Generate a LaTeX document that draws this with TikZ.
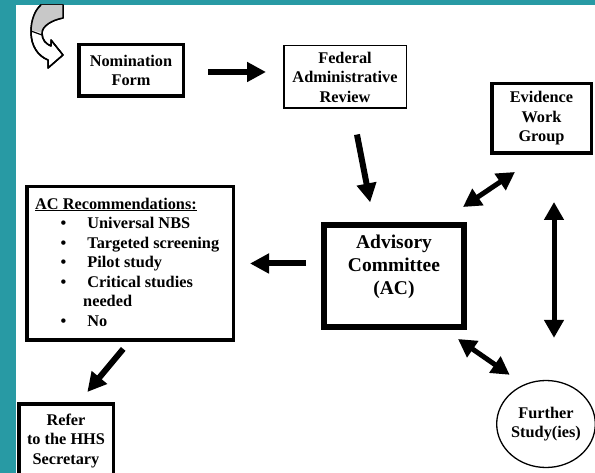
\documentclass[tikz,border=0pt]{standalone}
\usepackage{fontspec}
\setmainfont{Liberation Serif}
\usetikzlibrary{arrows.meta,calc,shapes.geometric}
\definecolor{bgteal}{RGB}{40,154,164}
\definecolor{icongrey}{RGB}{200,200,200}
\tikzset{
  box/.style={draw, align=center, inner sep=0pt, text=black},
  thickbox/.style={box, line width=3.5pt},
  thinbox/.style={box, line width=1.5pt},
  arr/.style={line width=6pt, -{Triangle[length=19pt,width=19pt]}},
  dbl/.style={line width=5pt, {Triangle[length=18pt,width=19pt]}-{Triangle[length=18pt,width=19pt]}},
  txt/.style={inner sep=0pt, align=center},
}
\begin{document}
\begin{tikzpicture}[x=1pt,y=-1pt,font=\fontsize{16.3}{19.5}\selectfont\bfseries]
\useasboundingbox (0,0) rectangle (595,473);
\fill[bgteal] (0,0) rectangle (595,473);
\fill[white] (16,5) rectangle (595,473);
\begin{scope}
\clip (16,5) rectangle (595,473);

% curved arrow icon
\draw[line width=1.5pt, fill=white, line join=round]
  (63,5) -- (63,18)
  .. controls (52,20) and (42,26) .. (42,33)
  .. controls (42,40) and (46,44) .. (51,46)
  -- (51,40) -- (63,55) -- (48,68) -- (48,60)
  .. controls (38,56) and (31,46) .. (31,32)
  .. controls (31,20) and (35,10) .. (41,5) -- cycle;
\begin{scope}
\clip (63,5) -- (63,18)
  .. controls (52,20) and (42,26) .. (42,33)
  -- (31,30)
  .. controls (31,20) and (35,10) .. (41,5) -- cycle;
\fill[icongrey] (25,0) rectangle (70,40);
\end{scope}
\draw[line width=1.5pt, line join=round]
  (63,5) -- (63,18)
  .. controls (52,20) and (42,26) .. (42,33)
  .. controls (42,40) and (46,44) .. (51,46)
  -- (51,40) -- (63,55) -- (48,68) -- (48,60)
  .. controls (38,56) and (31,46) .. (31,32)
  .. controls (31,20) and (35,10) .. (41,5);
\draw[line width=1.2pt] (31,31) -- (42,35);

% boxes
\node[thickbox, minimum width=104.5pt, minimum height=51.5pt] (nf) at (131,70.5) {Nomination\\Form};
\node[thinbox, minimum width=122.5pt, minimum height=62.5pt] (far) at (345,77) {Federal\\Administrative\\Review};
\node[thickbox, minimum width=99.5pt, minimum height=69.5pt] (ewg) at (541.5,118.5) {Evidence\\Work\\Group};
\node[box, line width=6pt, minimum width=140pt, minimum height=102pt] (ac) at (394,276) {};
\node[txt, font=\fontsize{19.5}{23}\selectfont\bfseries] (actext) at (394,267) {Advisory\\Committee\\(AC)};
\node[thickbox, minimum width=206.5pt, minimum height=153.5pt] (rec) at (130,263.5) {};
\node[inner sep=0pt, align=left, anchor=north west] (rectext) at (35,197.5) {%
\underline{AC Recommendations:}\\
\hspace*{25.5pt}\textbullet\hspace*{21pt}Universal NBS\\
\hspace*{25.5pt}\textbullet\hspace*{21pt}Targeted screening\\
\hspace*{25.5pt}\textbullet\hspace*{21pt}Pilot study\\
\hspace*{25.5pt}\textbullet\hspace*{21pt}Critical studies\\
\hspace*{48pt}needed\\
\hspace*{25.5pt}\textbullet\hspace*{21pt}No};
\node[thickbox, minimum width=94.5pt, minimum height=74.5pt] (refer) at (66,441) {Refer\\to the HHS\\Secretary};
\node[ellipse, draw, line width=1.3pt, minimum width=97pt, minimum height=87pt, inner sep=0pt, align=center] (fs) at (546,424) {Further\\Study(ies)};

% connectors
\coordinate (nfa) at (nf.east |- 0,72);
\coordinate (fara) at (far.west |- 0,72);
\draw[arr, shorten <=23pt, shorten >=17pt] (nfa) -- (fara);
\draw[arr, shorten <=26pt, shorten >=20pt] ($(far.south)+(7,0)$) -- ($(ac.north)+(-20,0)$);
\draw[dbl] ($(ac.north east)+(-4,-15)$) -- ($(ewg.south west)+(25,17)$);
\draw[arr, shorten <=15pt, shorten >=15pt] (rec.east -| ac.west) -- (rec.east);
\draw[arr, shorten <=9pt, shorten >=13pt] ($(rec.south)+(-1,0)$) -- ($(refer.north)+(13,0)$);
\coordinate (vtop) at (554,155);
\coordinate (vbot) at (vtop |- fs.north);
\draw[dbl, shorten <=47pt, shorten >=42pt] (vtop) -- (vbot);
\draw[dbl] ($(ac.south east)+(-9,9)$) -- ($(fs.north west)+(-1,-18)$);
\end{scope}
\end{tikzpicture}
\end{document}
